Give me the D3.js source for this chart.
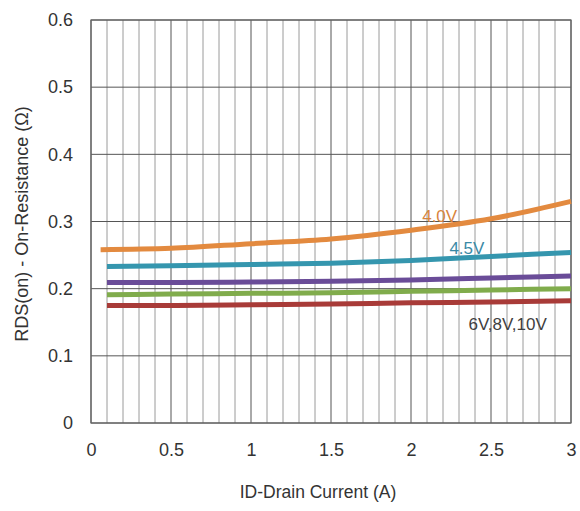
<!DOCTYPE html>
<html>
<head>
<meta charset="utf-8">
<script src="https://cdn.jsdelivr.net/npm/d3@7"></script>
<style>
  body { margin: 0; background: #fff; }
  svg { font-family: "Liberation Sans", Arial, sans-serif; }
</style>
</head>
<body>
<div id="chart"></div>
<script>
let w = 580;
let h = 511;
let m = { left: 91, right: 9, top: 20, bottom: 88 };

// drain current (A) and on-resistance (ohm) for each gate voltage
let id_orange = [0.06, 0.5, 1.0, 1.5, 2.0, 2.5, 3.0];
let r_40v = [0.258, 0.260, 0.267, 0.274, 0.287, 0.304, 0.330];
let id_rest = [0.1, 0.5, 1.0, 1.5, 2.0, 2.5, 3.0];
let r_45v = [0.233, 0.234, 0.236, 0.238, 0.242, 0.248, 0.254];
let r_6v = [0.209, 0.209, 0.210, 0.211, 0.213, 0.216, 0.219];
let r_8v = [0.191, 0.192, 0.193, 0.194, 0.196, 0.198, 0.200];
let r_10v = [0.175, 0.175, 0.176, 0.177, 0.179, 0.180, 0.182];

let x_ticks = [0, 0.5, 1, 1.5, 2, 2.5, 3];
let y_ticks = [0, 0.1, 0.2, 0.3, 0.4, 0.5, 0.6];

let series = [
    { x: id_orange, y: r_40v, color: "#e38a3f" },
    { x: id_rest, y: r_45v, color: "#3596ae" },
    { x: id_rest, y: r_6v, color: "#6a4c98" },
    { x: id_rest, y: r_8v, color: "#80ac4c" },
    { x: id_rest, y: r_10v, color: "#a83b38" }
];

let labels = [
    { text: "4.0V", x: 2.07, y: 0.299, color: "#d8843c" },
    { text: "4.5V", x: 2.24, y: 0.252, color: "#3a8aa6" },
    { text: "6V,8V,10V", x: 2.36, y: 0.139, color: "#404040" }
];

let x_scale = d3.scaleLinear()
    .domain([0, 3])
    .range([m.left, w - m.right]);

let y_scale = d3.scaleLinear()
    .domain([0, 0.6])
    .range([h - m.bottom, m.top]);

let svg = d3.select("#chart")
    .append("svg")
    .attr("width", w)
    .attr("height", h);

// minor vertical grid every 0.1
svg.append("g")
    .selectAll("line")
    .data(d3.range(1, 30).map(d => d / 10).filter(d => Math.round(d * 10) % 5 != 0))
    .enter()
    .append("line")
    .attr("x1", d => x_scale(d))
    .attr("x2", d => x_scale(d))
    .attr("y1", y_scale(0.6))
    .attr("y2", y_scale(0))
    .attr("stroke", "#9a9a9a")
    .attr("stroke-width", 1);

// major grid
svg.append("g")
    .selectAll("line")
    .data(x_ticks)
    .enter()
    .append("line")
    .attr("x1", d => x_scale(d))
    .attr("x2", d => x_scale(d))
    .attr("y1", y_scale(0.6))
    .attr("y2", y_scale(0))
    .attr("stroke", "#555")
    .attr("stroke-width", 1);

svg.append("g")
    .selectAll("line")
    .data(y_ticks)
    .enter()
    .append("line")
    .attr("x1", x_scale(0))
    .attr("x2", x_scale(3))
    .attr("y1", d => y_scale(d))
    .attr("y2", d => y_scale(d))
    .attr("stroke", "#555")
    .attr("stroke-width", 1);

svg.append("rect")
    .attr("x", x_scale(0))
    .attr("y", y_scale(0.6))
    .attr("width", x_scale(3) - x_scale(0))
    .attr("height", y_scale(0) - y_scale(0.6))
    .attr("fill", "none")
    .attr("stroke", "#666")
    .attr("stroke-width", 1.2);

let x_axis = d3.axisBottom(x_scale)
    .tickValues(x_ticks)
    .tickFormat(d3.format("~g"))
    .tickSize(0)
    .tickPadding(20);

let y_axis = d3.axisLeft(y_scale)
    .tickValues(y_ticks)
    .tickFormat(d3.format("~g"))
    .tickSize(0)
    .tickPadding(18);

let gx = svg.append("g")
    .attr("transform", "translate(0, " + y_scale(0) + ")")
    .call(x_axis);

let gy = svg.append("g")
    .attr("transform", "translate(" + x_scale(0) + ", 0)")
    .call(y_axis);

[gx, gy].forEach(g => {
    g.select(".domain").remove();
    g.selectAll("text")
        .attr("font-size", 18)
        .attr("fill", "#333")
        .attr("font-family", "Liberation Sans, Arial, sans-serif");
});

let line = d3.line()
    .x(d => x_scale(d[0]))
    .y(d => y_scale(d[1]))
    .curve(d3.curveMonotoneX);

series.forEach(s => {
    svg.append("path")
        .datum(s.x.map((v, i) => [v, s.y[i]]))
        .attr("d", line)
        .attr("fill", "none")
        .attr("stroke", s.color)
        .attr("stroke-width", 5)
        .attr("stroke-linecap", "butt");
});

svg.append("g")
    .selectAll("text")
    .data(labels)
    .enter()
    .append("text")
    .attr("x", d => x_scale(d.x))
    .attr("y", d => y_scale(d.y))
    .attr("fill", d => d.color)
    .attr("font-size", 17)
    .text(d => d.text);

svg.append("text")
    .attr("x", 318)
    .attr("y", 498)
    .attr("text-anchor", "middle")
    .attr("font-size", 17.5)
    .attr("fill", "#333")
    .text("ID-Drain Current (A)");

svg.append("text")
    .attr("transform", "translate(28, 224) rotate(-90)")
    .attr("text-anchor", "middle")
    .attr("font-size", 18)
    .attr("fill", "#333")
    .text("RDS(on) - On-Resistance (Ω)");
</script>
</body>
</html>
